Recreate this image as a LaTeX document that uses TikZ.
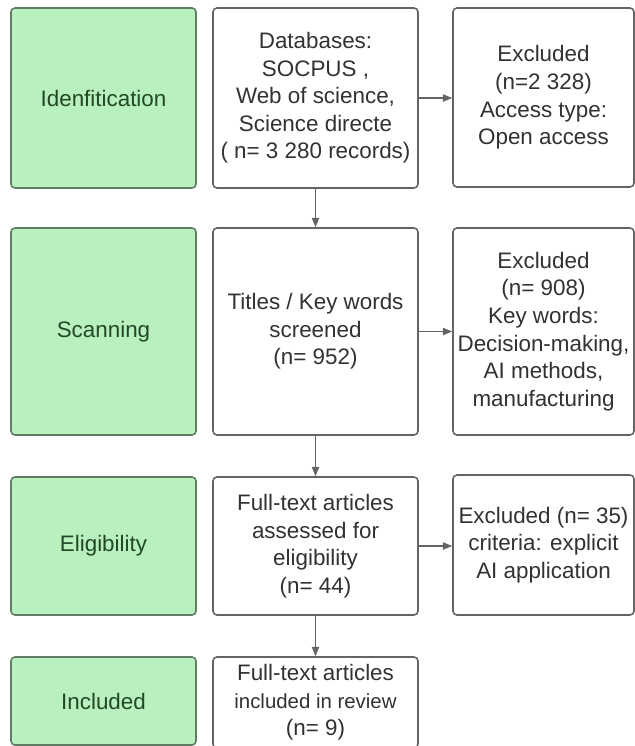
\documentclass[tikz,border=0pt]{standalone}
\usepackage{fontspec}
\setmainfont{Liberation Sans}
\usetikzlibrary{arrows.meta}
\definecolor{stagefill}{RGB}{185,240,192}
\definecolor{stageline}{RGB}{95,125,98}
\definecolor{stagetext}{RGB}{34,72,38}
\definecolor{boxline}{RGB}{100,100,100}
\definecolor{boxtext}{RGB}{50,50,50}
\tikzset{
    stage/.style={
            draw=stageline, fill=stagefill, line width=1.2pt, rounded corners=3pt,
            text=stagetext, minimum width=138.75pt, inner sep=0pt,
            font=\fontsize{16.8pt}{20.7pt}\selectfont
        },
    record/.style={
            draw=boxline, fill=white, line width=1.2pt, rounded corners=3pt,
            text=boxtext, align=center, inner sep=0pt,
            font=\fontsize{16.8pt}{20.7pt}\selectfont
        },
    flow/.style={
            draw=boxline, line width=0.8pt, -{Triangle[length=7pt,width=5.5pt]}
        },
}

\begin{document}
\begin{tikzpicture}[x=0.75pt,y=-0.75pt]
        %page frame
        \clip (0,0) rectangle (635,746);
        %stage boxes
        \node[stage, minimum height=135pt] (ident) at (103.5,98) {Idenfitication};
        \node[stage, minimum height=155.25pt] (scan) at (103.5,331.5) {Scanning};
        \node[stage, minimum height=103.5pt] (elig) at (103.5,546) {Eligibility};
        \node[stage, minimum height=66pt] (incl) at (103.5,701) {Included};
        %record boxes
        \node[record, minimum width=153.75pt, minimum height=135pt] (data) at (315.5,98)
            {Databases:\\ SOCPUS ,\\ Web of science,\\ Science directe\\ ( n= 3 280 records)};
        \node[record, minimum width=153.75pt, minimum height=155.25pt] (screen) at (315.5,331.5)
            {Titles / Key words\\ screened\\ (n= 952)};
        \node[record, minimum width=153.75pt, minimum height=103.5pt] (full) at (315.5,546)
            {Full-text articles\\ assessed for\\ eligibility\\ (n= 44)};
        \node[record, minimum width=153.75pt, minimum height=68.25pt] (review) at (315.5,702.5)
            {Full-text articles\\ {\fontsize{15.3pt}{20.7pt}\selectfont included in review}\\ (n= 9)};
        %excluded boxes
        \node[record, minimum width=135.75pt, minimum height=134.25pt] (exone) at (543.5,97.5)
            {Excluded\\ (n=2 328)\\ Access type:\\ Open access};
        \node[record, minimum width=135.75pt, minimum height=155.25pt] (extwo) at (543.5,331.5)
            {Excluded\\ (n= 908)\\ Key words:\\ Decision-making,\\ AI methods,\\ manufacturing};
        \node[record, minimum width=135.75pt, minimum height=105pt] (exthree) at (543.5,545)
            {Excluded (n= 35)\\ criteria: explicit\\ AI application};
        %down the middle
        \draw[flow] (data) -- (screen);
        \draw[flow] (screen) -- (full);
        \draw[flow] (full) -- (review);
        %out to the right
        \draw[flow] (data.east) -- (data.east -| exone.west);
        \draw[flow] (screen.east) -- (screen.east -| extwo.west);
        \draw[flow] (full.east) -- (full.east -| exthree.west);
    \end{tikzpicture}
\end{document}
